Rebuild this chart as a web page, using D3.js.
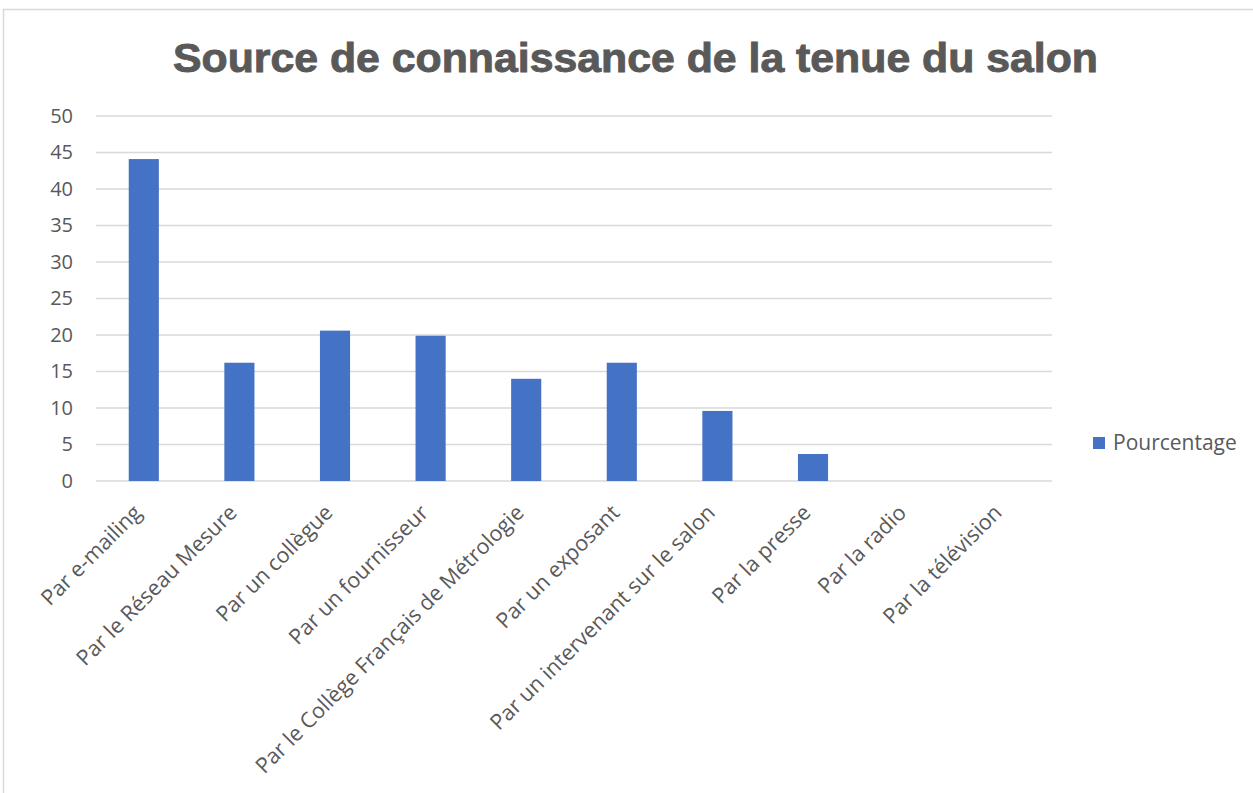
<!DOCTYPE html>
<html>
<head>
<meta charset="utf-8">
<script src="https://cdn.jsdelivr.net/npm/d3@7"></script>
<style>
  body { margin: 0; background: #fff; }
  text { font-family: "Open Sans", "Noto Sans", sans-serif; fill: #595959; }
</style>
</head>
<body>
<div id="chart"></div>
<script>
var categories = ["Par e-mailing", "Par le Réseau Mesure", "Par un collègue", "Par un fournisseur",
  "Par le Collège Français de Métrologie", "Par un exposant", "Par un intervenant sur le salon",
  "Par la presse", "Par la radio", "Par la télévision"];
var values = [44.1, 16.2, 20.6, 19.9, 14.0, 16.2, 9.6, 3.7, 0, 0];
var yTicks = [0, 5, 10, 15, 20, 25, 30, 35, 40, 45, 50];
var seriesName = "Pourcentage";
var title = "Source de connaissance de la tenue du salon";

var W = 1253, H = 793;
var plotLeft = 96, plotRight = 1052, plotTop = 116, plotBottom = 481;

var svg = d3.select("#chart").append("svg")
    .attr("width", W).attr("height", H);

// chart frame
svg.append("rect")
    .attr("x", 3.5).attr("y", 9.5).attr("width", W + 10).attr("height", H + 10)
    .attr("fill", "none").attr("stroke", "#d9d9d9").attr("stroke-width", 1.5);

svg.append("text")
    .attr("x", 173).attr("y", 72)
    .attr("textLength", 925).attr("lengthAdjust", "spacingAndGlyphs")
    .style("font-family", "'Liberation Sans', Arial, sans-serif")
    .style("font-weight", "bold")
    .style("font-size", "40px")
    .attr("stroke", "#595959").attr("stroke-width", 0.9)
    .text(title);

var x = d3.scaleBand().domain(categories).range([plotLeft, plotRight]).paddingInner(0.685).paddingOuter(0.3425);
var y = d3.scaleLinear().domain([0, 50]).range([plotBottom, plotTop]);

// gridlines
svg.append("g").selectAll("line").data(yTicks).join("line")
    .attr("x1", plotLeft).attr("x2", plotRight)
    .attr("y1", function(d){ return y(d); }).attr("y2", function(d){ return y(d); })
    .attr("stroke", "#d9d9d9").attr("stroke-width", 1.5);

var yAxis = svg.append("g").attr("transform", "translate(" + (plotLeft - 15) + ",0)")
    .call(d3.axisLeft(y).tickValues(yTicks).tickSize(0).tickPadding(8));
yAxis.select(".domain").remove();
yAxis.selectAll("text").style("font-size", "20px").attr("fill", "#595959")
    .style("font-family", "'Open Sans', sans-serif");

// bars
svg.append("g").selectAll("rect").data(values).join("rect")
    .attr("x", function(d, i){ return x(categories[i]); })
    .attr("y", function(d){ return y(d); })
    .attr("width", x.bandwidth())
    .attr("height", function(d){ return y(0) - y(d); })
    .attr("fill", "#4472c4");

// x axis labels
var xAxis = svg.append("g").attr("transform", "translate(0," + plotBottom + ")")
    .call(d3.axisBottom(x).tickSize(0).tickPadding(0));
xAxis.select(".domain").remove();
xAxis.selectAll("text")
    .style("font-size", "21.5px")
    .attr("fill", "#595959")
    .style("font-family", "'Open Sans', sans-serif")
    .attr("text-anchor", "end")
    .attr("y", 0)
    .attr("dy", "0")
    .attr("transform", "translate(-1,33) rotate(-45)");

// legend
var lg = svg.append("g").attr("transform", "translate(1093,437)");
lg.append("rect").attr("width", 12).attr("height", 12).attr("fill", "#4472c4");
lg.append("text").attr("x", 20).attr("y", 6).attr("dy", "0.35em")
    .style("font-size", "21px").text(seriesName);
</script>
</body>
</html>
